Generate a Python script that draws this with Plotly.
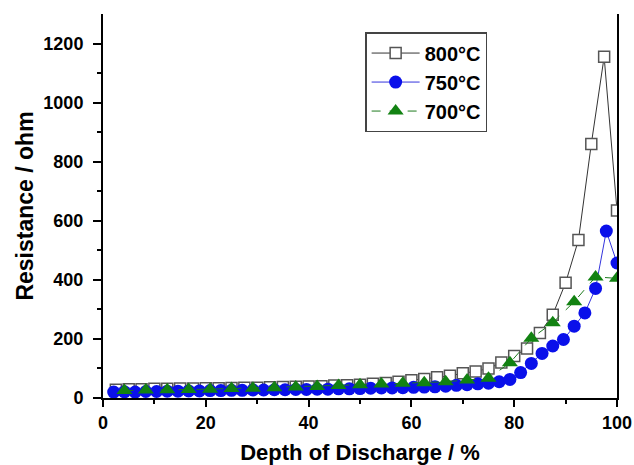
import plotly.graph_objects as go

# 800 °C series
x800 = [2.5 * k for k in range(1, 41)]
y800 = [28, 30, 30, 31, 31, 32, 32, 33, 33, 34,
        35, 35, 36, 37, 38, 39, 40, 42, 43, 45,
        48, 51, 55, 60, 64, 70, 75, 84, 90, 100,
        120, 142, 168, 220, 282, 390, 535, 860, 1155, 635]

# 750 °C series
x750 = [round(100 * k / 48, 2) for k in range(1, 49)]
y750 = [20, 21, 20, 22, 22, 23, 23, 24, 24, 25,
        25, 26, 26, 27, 27, 28, 28, 29, 29, 30,
        30, 31, 31, 32, 33, 34, 34, 35, 36, 37,
        38, 40, 43, 45, 48, 50, 55, 63, 86, 117,
        151, 176, 198, 243, 288, 371, 565, 457]

# 700 °C series
x700 = [round(100 * k / 24, 2) for k in range(1, 25)]
y700 = [25, 27, 28, 29, 30, 32, 33, 35, 37, 39,
        42, 45, 47, 50, 52, 55, 61, 67, 119, 202,
        255, 326, 410, 405]

names = ["800°C", "750°C", "700°C"]

fig = go.Figure()
fig.add_trace(go.Scatter(
    x=x800, y=y800, name=names[0], mode="lines+markers",
    line=dict(color="#333333", width=1),
    marker=dict(symbol="square", size=11, color="white", line=dict(width=1.5, color="#555555")),
))
fig.add_trace(go.Scatter(
    x=x750, y=y750, name=names[1], mode="lines+markers",
    line=dict(color="#3333dd", width=1),
    marker=dict(symbol="circle", size=13, color="#0a10ea"),
))
fig.add_trace(go.Scatter(
    x=x700, y=y700, name=names[2], mode="lines+markers",
    line=dict(color="#1e7a1e", width=1, dash="dash"),
    marker=dict(symbol="triangle-up", size=14, color="#128212"),
))

font_family = "Liberation Sans, Arial, sans-serif"
fig.update_layout(
    width=634, height=465,
    margin=dict(l=103, r=17, t=14, b=67, autoexpand=False),
    paper_bgcolor="white", plot_bgcolor="white",
    font=dict(family=font_family, color="black"),
    showlegend=True,
    legend=dict(
        x=0.51, y=0.953, xanchor="left", yanchor="top",
        bordercolor="#444444", borderwidth=1.5, bgcolor="white",
        font=dict(size=20, family=font_family, color="black", weight="bold"),
        itemwidth=48, tracegroupgap=0,
    ),
    xaxis=dict(
        range=[0, 100], tickvals=[0, 20, 40, 60, 80, 100],
        ticks="outside", ticklen=7, tickwidth=2, tickcolor="black",
        minor=dict(tickvals=[10, 30, 50, 70, 90], ticks="outside", ticklen=4, tickwidth=2, tickcolor="black"),
        showline=True, linecolor="black", linewidth=2, mirror=False,
        showgrid=False, zeroline=False, automargin=False,
        tickfont=dict(size=18, family=font_family, color="black", weight="bold"),
        title=dict(text="Depth of Discharge / %", standoff=13,
                   font=dict(size=22, family=font_family, color="black", weight="bold")),
    ),
    yaxis=dict(
        range=[0, 1300], tickvals=[0, 200, 400, 600, 800, 1000, 1200],
        ticks="outside", ticklen=8, tickwidth=2, tickcolor="black",
        minor=dict(tickvals=[100, 300, 500, 700, 900, 1100], ticks="outside", ticklen=4, tickwidth=2, tickcolor="black"),
        showline=True, linecolor="black", linewidth=2, mirror=True,
        showgrid=False, zeroline=False, automargin=False,
        ticklabelstandoff=6,
        tickfont=dict(size=18, family=font_family, color="black", weight="bold"),
        title=dict(text="Resistance / ohm", standoff=3,
                   font=dict(size=23, family=font_family, color="black", weight="bold")),
    ),
)

fig.write_html("out.html")
